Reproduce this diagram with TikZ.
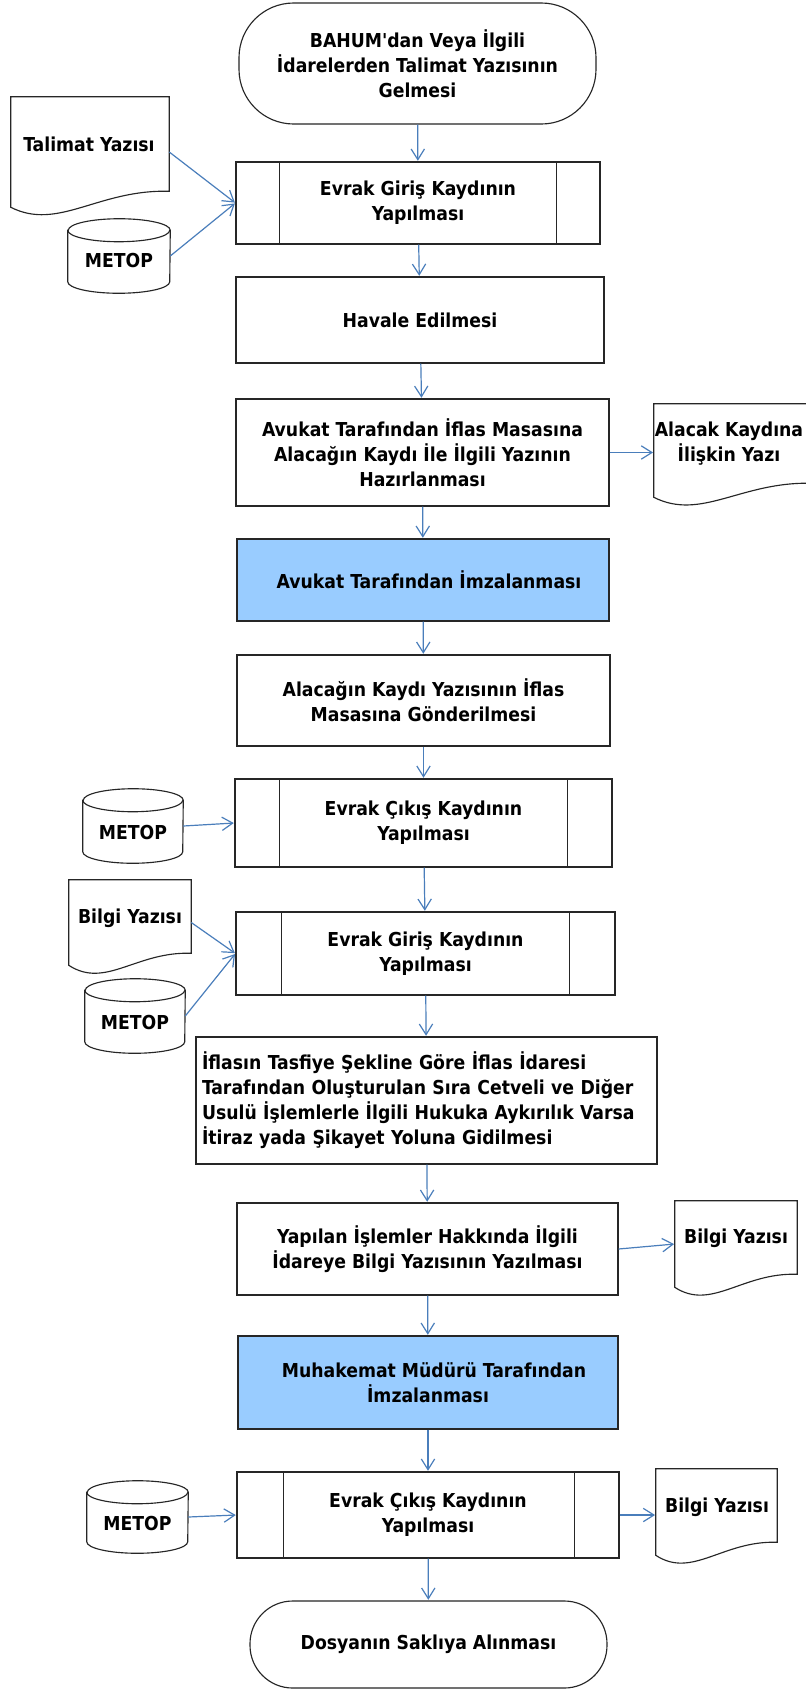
\documentclass[tikz,border=0pt]{standalone}
\usepackage{fontspec}
\IfFontExistsTF{DejaVu Sans Condensed Bold}{\newfontfamily\tfont{DejaVu Sans Condensed Bold}}{\newfontfamily\tfont{DejaVu Sans Bold}}
\usetikzlibrary{arrows.meta,calc}
\definecolor{flowblue}{HTML}{4A7EBB}
\definecolor{sigblue}{HTML}{99CCFF}
\newdimen\pxu \pxu=0.75pt
\tikzset{
  every node/.style={font={\tfont\fontsize{14.4}{18.75}\selectfont}, text=black},
  shapeline/.style={draw=black!85, line width=0.85pt},
  procbox/.style={shapeline, fill=white, rectangle, inner sep=0pt, align=center},
  signbox/.style={procbox, fill=sigblue},
  termbox/.style={procbox},
  ghost/.style={rectangle, inner sep=0pt, draw=none},
  flow/.style={draw=flowblue, line width=0.9pt, shorten >=0.5pt, -{Straight Barb[length=8pt,width=10pt,line width=0.9pt]}},
}
\newcommand\docout[2]{%
  \draw[shapeline,fill=white] (#1.north west) -- (#1.north east) -- ($(#1.south east)+(0,#2)$)
    .. controls ($(#1.south west)!0.55!(#1.south east)+(0,#2+2)$) and ($(#1.south west)!0.3!(#1.south east)+(0,-24)$) .. (#1.south west) -- cycle;}
\newcommand\cylout[2]{%
  \draw[shapeline,fill=white] ($(#1.north west)+(0,-11.5)$) -- ($(#1.south west)+(0,11.5)$)
    arc[start angle=180,end angle=360,x radius=#2,y radius=8.625pt]
    -- ($(#1.north east)+(0,-11.5)$)
    arc[start angle=0,end angle=180,x radius=#2,y radius=8.625pt] -- cycle;
  \draw[shapeline] ($(#1.north west)+(0,-11.5)$) arc[start angle=180,end angle=360,x radius=#2,y radius=8.625pt];}
\newcommand\predef[3]{%
  \draw[shapeline] ($(#1.north west)+(#2,0)$) -- ($(#1.south west)+(#2,0)$);
  \draw[shapeline] ($(#1.north east)+(-#3,0)$) -- ($(#1.south east)+(-#3,0)$);}
\begin{document}
\begin{tikzpicture}[x=0.75pt,y=0.75pt]
\useasboundingbox[fill=white] (0,0) rectangle (806,-1689);

% start terminal
\node[termbox, minimum width=357\pxu, minimum height=121\pxu, rounded corners=41pt] (start) at (417.5,-63.5)
  {BAHUM'dan Veya İlgili\\İdarelerden Talimat Yazısının\\Gelmesi};

% talimat document
\node[ghost, minimum width=158\pxu, minimum height=110\pxu] (tal) at (90,-152) {};
\docout{tal}{16}
\node (talt) at (89,-144) {Talimat Yazısı};

% metop 1
\node[ghost, minimum width=102\pxu, minimum height=74\pxu] (m1) at (119,-256) {};
\cylout{m1}{38.25pt}
\node (m1t) at (119,-261) {METOP};

% evrak giris 1
\node[procbox, minimum width=364\pxu, minimum height=82\pxu] (e1) at (418,-203) {Evrak Giriş Kaydının\\Yapılması};
\predef{e1}{44}{44}

\node[procbox, minimum width=368\pxu, minimum height=86\pxu] (hav) at (420,-320) {Havale Edilmesi};

\node[procbox, minimum width=373\pxu, minimum height=107\pxu] (avk) at (422.5,-452.5)
  {Avukat Tarafından İflas Masasına\\Alacağın Kaydı İle İlgili Yazının\\Hazırlanması};

\node[ghost, minimum width=158\pxu, minimum height=93\pxu] (alc) at (733,-450.5) {};
\docout{alc}{14}
\node (alct) at (729,-443.5) [align=center] {Alacak Kaydına\\İlişkin Yazı};

\node[signbox, minimum width=372\pxu, minimum height=82\pxu] (imz) at (423,-580) {\hspace*{9pt}Avukat Tarafından İmzalanması};

\node[procbox, minimum width=373\pxu, minimum height=91\pxu] (gon) at (423.5,-700.5)
  {Alacağın Kaydı Yazısının İflas\\Masasına Gönderilmesi};

\node[procbox, minimum width=377\pxu, minimum height=88\pxu] (c1) at (423.5,-823) {Evrak Çıkış Kaydının\\Yapılması};
\predef{c1}{45}{45}

\node[ghost, minimum width=100\pxu, minimum height=74\pxu] (m2) at (133,-826) {};
\cylout{m2}{37.5pt}
\node (m2t) at (133,-832) {METOP};

\node[ghost, minimum width=122\pxu, minimum height=85\pxu] (bl) at (130,-922.5) {};
\docout{bl}{12}
\node (blt) at (130,-918) {Bilgi Yazısı};

\node[procbox, minimum width=379\pxu, minimum height=83\pxu] (e2) at (425.5,-953.5) {Evrak Giriş Kaydının\\Yapılması};
\predef{e2}{46}{46}

\node[ghost, minimum width=100\pxu, minimum height=74\pxu] (m3) at (135,-1016) {};
\cylout{m3}{37.5pt}
\node (m3t) at (135,-1022) {METOP};

\node[procbox, minimum height=127\pxu, text width=449\pxu, inner xsep=6\pxu, align=left] (ifl) at (426.5,-1100.5)
  {İflasın Tasfiye Şekline Göre İflas İdaresi\\Tarafından Oluşturulan Sıra Cetveli ve Diğer\\Usulü İşlemlerle İlgili Hukuka Aykırılık Varsa\\İtiraz yada Şikayet Yoluna Gidilmesi};

\node[procbox, minimum width=381\pxu, minimum height=92\pxu] (yap) at (427.5,-1249)
  {Yapılan İşlemler Hakkında İlgili\\İdareye Bilgi Yazısının Yazılması};

\node[ghost, minimum width=122\pxu, minimum height=86\pxu] (r1) at (736,-1244) {};
\docout{r1}{13}
\node (r1t) at (736,-1238) {Bilgi Yazısı};

\node[signbox, minimum width=380\pxu, minimum height=93\pxu] (muh) at (428,-1382.5)
  {\hspace*{9pt}Muhakemat Müdürü Tarafından\\İmzalanması};

\node[procbox, minimum width=382\pxu, minimum height=86\pxu] (c2) at (428,-1515) {Evrak Çıkış Kaydının\\Yapılması};
\predef{c2}{47}{45}

\node[ghost, minimum width=101\pxu, minimum height=72\pxu] (m4) at (137.5,-1517) {};
\cylout{m4}{37.875pt}
\node (m4t) at (137.5,-1523) {METOP};

\node[ghost, minimum width=121\pxu, minimum height=86\pxu] (r2) at (716.5,-1512) {};
\docout{r2}{13}
\node (r2t) at (717,-1507) {Bilgi Yazısı};

\node[termbox, minimum width=357\pxu, minimum height=87\pxu, rounded corners=32pt] (fin) at (428.5,-1644.5) {Dosyanın Saklıya Alınması};

% connectors
\draw[flow] (start) -- (e1);
\draw[flow] (e1) -- (hav);
\draw[flow] (hav) -- (avk);
\draw[flow] (avk) -- (imz);
\draw[flow] (imz) -- (gon);
\draw[flow] (gon) -- (c1);
\draw[flow] (c1) -- (e2);
\draw[flow] (e2) -- (ifl);
\draw[flow] (ifl) -- (yap);
\draw[flow] (yap) -- (muh);
\draw[flow] (muh) -- (c2);
\draw[flow] (c2) -- (fin);

\draw[flow] (tal.east) -- (e1.west);
\draw[flow] (m1.east) -- (e1.west);
\draw[flow] (avk.east) -- (avk.east -| alc.west);
\draw[flow] (m2.east) -- (c1.west);
\draw[flow] (bl.east) -- (e2.west);
\draw[flow] (m3.east) -- (e2.west);
\draw[flow] (yap.east) -- (r1.west);
\draw[flow] (m4.east) -- (c2.west);
\draw[flow] (c2.east) -- (c2.east -| r2.west);
\end{tikzpicture}
\end{document}
